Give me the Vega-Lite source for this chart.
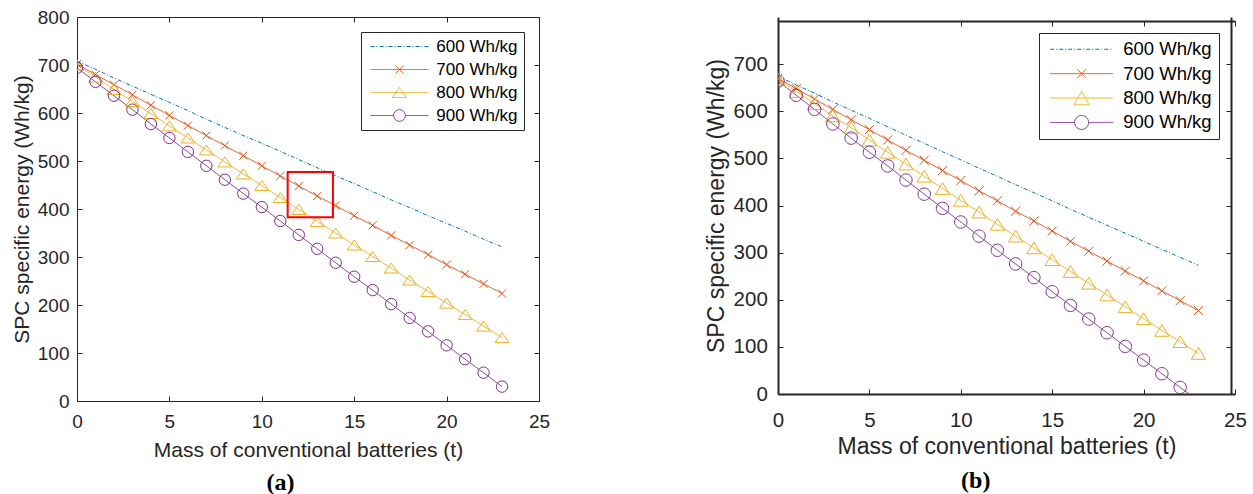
{
  "$schema": "https://vega.github.io/schema/vega-lite/v6.json",
  "background": "white",
  "padding": {"left": 11, "top": 8, "right": 5, "bottom": 5},
  "bounds": "flush",
  "align": "none",
  "spacing": 239,
  "datasets": {
    "a": [
      {"m":0,"600 Wh/kg":708,"700 Wh/kg":702,"800 Wh/kg":700,"900 Wh/kg":694},
      {"m":1,"600 Wh/kg":691,"700 Wh/kg":680,"800 Wh/kg":675,"900 Wh/kg":665},
      {"m":2,"600 Wh/kg":673,"700 Wh/kg":659,"800 Wh/kg":649,"900 Wh/kg":636},
      {"m":3,"600 Wh/kg":656,"700 Wh/kg":638,"800 Wh/kg":624,"900 Wh/kg":607},
      {"m":4,"600 Wh/kg":639,"700 Wh/kg":616,"800 Wh/kg":599,"900 Wh/kg":577},
      {"m":5,"600 Wh/kg":622,"700 Wh/kg":595,"800 Wh/kg":573,"900 Wh/kg":548},
      {"m":6,"600 Wh/kg":605,"700 Wh/kg":574,"800 Wh/kg":548,"900 Wh/kg":519},
      {"m":7,"600 Wh/kg":587,"700 Wh/kg":553,"800 Wh/kg":523,"900 Wh/kg":490},
      {"m":8,"600 Wh/kg":570,"700 Wh/kg":532,"800 Wh/kg":498,"900 Wh/kg":461},
      {"m":9,"600 Wh/kg":553,"700 Wh/kg":511,"800 Wh/kg":473,"900 Wh/kg":432},
      {"m":10,"600 Wh/kg":537,"700 Wh/kg":490,"800 Wh/kg":449,"900 Wh/kg":404},
      {"m":11,"600 Wh/kg":520,"700 Wh/kg":469,"800 Wh/kg":424,"900 Wh/kg":375},
      {"m":12,"600 Wh/kg":503,"700 Wh/kg":448,"800 Wh/kg":399,"900 Wh/kg":346},
      {"m":13,"600 Wh/kg":486,"700 Wh/kg":427,"800 Wh/kg":374,"900 Wh/kg":317},
      {"m":14,"600 Wh/kg":469,"700 Wh/kg":407,"800 Wh/kg":350,"900 Wh/kg":288},
      {"m":15,"600 Wh/kg":453,"700 Wh/kg":386,"800 Wh/kg":325,"900 Wh/kg":259},
      {"m":16,"600 Wh/kg":436,"700 Wh/kg":366,"800 Wh/kg":301,"900 Wh/kg":231},
      {"m":17,"600 Wh/kg":419,"700 Wh/kg":345,"800 Wh/kg":277,"900 Wh/kg":202},
      {"m":18,"600 Wh/kg":403,"700 Wh/kg":325,"800 Wh/kg":252,"900 Wh/kg":173},
      {"m":19,"600 Wh/kg":386,"700 Wh/kg":305,"800 Wh/kg":228,"900 Wh/kg":145},
      {"m":20,"600 Wh/kg":370,"700 Wh/kg":284,"800 Wh/kg":204,"900 Wh/kg":116},
      {"m":21,"600 Wh/kg":354,"700 Wh/kg":264,"800 Wh/kg":180,"900 Wh/kg":87},
      {"m":22,"600 Wh/kg":337,"700 Wh/kg":244,"800 Wh/kg":156,"900 Wh/kg":59},
      {"m":23,"600 Wh/kg":321,"700 Wh/kg":224,"800 Wh/kg":132,"900 Wh/kg":30}
    ],
    "b": [
      {"m":0,"600 Wh/kg":674,"700 Wh/kg":670,"800 Wh/kg":668,"900 Wh/kg":664},
      {"m":1,"600 Wh/kg":656,"700 Wh/kg":648,"800 Wh/kg":642,"900 Wh/kg":634},
      {"m":2,"600 Wh/kg":638,"700 Wh/kg":626,"800 Wh/kg":616,"900 Wh/kg":604},
      {"m":3,"600 Wh/kg":620,"700 Wh/kg":604,"800 Wh/kg":590,"900 Wh/kg":573},
      {"m":4,"600 Wh/kg":602,"700 Wh/kg":582,"800 Wh/kg":565,"900 Wh/kg":543},
      {"m":5,"600 Wh/kg":585,"700 Wh/kg":561,"800 Wh/kg":539,"900 Wh/kg":513},
      {"m":6,"600 Wh/kg":567,"700 Wh/kg":539,"800 Wh/kg":513,"900 Wh/kg":484},
      {"m":7,"600 Wh/kg":549,"700 Wh/kg":517,"800 Wh/kg":488,"900 Wh/kg":454},
      {"m":8,"600 Wh/kg":532,"700 Wh/kg":496,"800 Wh/kg":462,"900 Wh/kg":424},
      {"m":9,"600 Wh/kg":514,"700 Wh/kg":474,"800 Wh/kg":436,"900 Wh/kg":394},
      {"m":10,"600 Wh/kg":497,"700 Wh/kg":453,"800 Wh/kg":411,"900 Wh/kg":365},
      {"m":11,"600 Wh/kg":479,"700 Wh/kg":431,"800 Wh/kg":386,"900 Wh/kg":335},
      {"m":12,"600 Wh/kg":462,"700 Wh/kg":410,"800 Wh/kg":360,"900 Wh/kg":305},
      {"m":13,"600 Wh/kg":444,"700 Wh/kg":388,"800 Wh/kg":335,"900 Wh/kg":276},
      {"m":14,"600 Wh/kg":427,"700 Wh/kg":367,"800 Wh/kg":310,"900 Wh/kg":247},
      {"m":15,"600 Wh/kg":410,"700 Wh/kg":346,"800 Wh/kg":285,"900 Wh/kg":217},
      {"m":16,"600 Wh/kg":392,"700 Wh/kg":324,"800 Wh/kg":260,"900 Wh/kg":188},
      {"m":17,"600 Wh/kg":375,"700 Wh/kg":303,"800 Wh/kg":235,"900 Wh/kg":159},
      {"m":18,"600 Wh/kg":358,"700 Wh/kg":282,"800 Wh/kg":210,"900 Wh/kg":130},
      {"m":19,"600 Wh/kg":341,"700 Wh/kg":261,"800 Wh/kg":185,"900 Wh/kg":101},
      {"m":20,"600 Wh/kg":324,"700 Wh/kg":240,"800 Wh/kg":160,"900 Wh/kg":72},
      {"m":21,"600 Wh/kg":307,"700 Wh/kg":219,"800 Wh/kg":135,"900 Wh/kg":43},
      {"m":22,"600 Wh/kg":290,"700 Wh/kg":198,"800 Wh/kg":111,"900 Wh/kg":14},
      {"m":23,"600 Wh/kg":273,"700 Wh/kg":177,"800 Wh/kg":86,"900 Wh/kg":-14}
    ],
    "box": [{"x1": 11.4, "x2": 13.85, "y1": 383, "y2": 477}]
  },
  "config": {
    "view": {"stroke": null},
    "axis": {
      "grid": false,
      "domainColor": "#262626",
      "tickColor": "#262626",
      "labelColor": "#262626",
      "titleColor": "#262626",
      "labelFont": "Liberation Sans",
      "titleFont": "Liberation Sans",
      "titleFontWeight": "normal",
      "tickSize": -5,
      "tickWidth": 1,
      "labelFlush": false,
      "labelOverlap": false
    }
  },
  "resolve": {
    "scale": {"color": "independent", "shape": "independent", "strokeDash": "independent"},
    "legend": {"color": "independent", "shape": "independent", "strokeDash": "independent"}
  },
  "hconcat": [
    {
      "width": 462,
      "height": 384,
      "title": {"text": "(a)", "orient": "bottom", "frame": "bounds", "anchor": "middle", "font": "Liberation Serif", "fontSize": 24, "fontWeight": "bold", "color": "#000000", "offset": 10},
      "layer": [
        {
          "data": {"name": "a"},
          "transform": [{"fold": ["600 Wh/kg", "700 Wh/kg", "800 Wh/kg", "900 Wh/kg"], "as": ["s", "e"]}],
          "mark": {"type": "line", "strokeWidth": 1, "clip": true},
          "encoding": {
            "x": {"field": "m", "type": "quantitative", "scale": {"domain": [0, 25], "nice": false, "zero": false},
              "axis": {"orient": "bottom", "values": [0, 5, 10, 15, 20, 25], "title": "Mass of conventional batteries (t)", "labelFontSize": 19, "titleFontSize": 21, "labelPadding": 16.6, "titlePadding": 8, "domainWidth": 1}},
            "y": {"field": "e", "type": "quantitative", "scale": {"domain": [0, 800], "nice": false, "zero": false},
              "axis": {"orient": "left", "values": [0, 100, 200, 300, 400, 500, 600, 700, 800], "title": "SPC specific energy (Wh/kg)", "labelFontSize": 19, "titleFontSize": 21, "labelPadding": 13, "titlePadding": 5, "domainWidth": 1}},
            "color": {"field": "s", "type": "nominal",
              "scale": {"domain": ["600 Wh/kg", "700 Wh/kg", "800 Wh/kg", "900 Wh/kg"], "range": ["#0072BD", "#D95319", "#EDB120", "#7E2F8E"]},
              "legend": {"title": null, "orient": "top-right", "offset": 15, "fillColor": "#ffffff", "strokeColor": "#262626", "padding": 6, "labelFont": "Liberation Sans", "labelFontSize": 17, "labelColor": "#000000", "labelOffset": 52.3, "symbolSize": 100, "symbolStrokeWidth": 1, "rowPadding": 5,
                "encode": {"symbols": {"update": {
                  "shape": {"signal": "datum.value === '600 Wh/kg' ? 'M-1,0L10.6,0' : datum.value === '700 Wh/kg' ? 'M-1,0L10.6,0M4,-0.8L5.6,0.8M4,0.8L5.6,-0.8' : datum.value === '800 Wh/kg' ? 'M-1,0L10.6,0M4.8,-1L6.2,1L3.4,1Z' : 'M-1,0L3.64,0M5.96,0L10.6,0M3.64,0A1.16,1.16,0,1,0,5.96,0A1.16,1.16,0,1,0,3.64,0Z'"},
                  "strokeDash": {"signal": "datum.value === '600 Wh/kg' ? [4,2,1,2] : [1,0]"},
                  "fill": {"value": "transparent"}
                }}}}},
            "strokeDash": {"field": "s", "type": "nominal",
              "scale": {"domain": ["600 Wh/kg", "700 Wh/kg", "800 Wh/kg", "900 Wh/kg"], "range": [[4, 2, 1, 2], [1, 0], [1, 0], [1, 0]]},
              "legend": null}
          }
        },
        {
          "data": {"name": "a"},
          "transform": [{"fold": ["600 Wh/kg", "700 Wh/kg", "800 Wh/kg", "900 Wh/kg"], "as": ["s", "e"]}, {"filter": "datum.s !== '600 Wh/kg'"}],
          "mark": {"type": "point", "filled": false, "size": 400, "strokeWidth": 1, "opacity": 1, "clip": true},
          "encoding": {
            "x": {"field": "m", "type": "quantitative", "scale": {"domain": [0, 25], "nice": false, "zero": false}, "axis": {"orient": "top", "values": [0, 5, 10, 15, 20, 25], "labels": false, "title": null, "domainWidth": 1}},
            "y": {"field": "e", "type": "quantitative", "scale": {"domain": [0, 800], "nice": false, "zero": false}, "axis": {"orient": "right", "values": [0, 100, 200, 300, 400, 500, 600, 700, 800], "labels": false, "title": null, "domainWidth": 1}},
            "color": {"field": "s", "type": "nominal"},
            "shape": {"field": "s", "type": "nominal",
              "scale": {"domain": ["700 Wh/kg", "800 Wh/kg", "900 Wh/kg"], "range": ["M-0.4,-0.4L0.4,0.4M-0.4,0.4L0.4,-0.4", "M0,-0.5L0.7,0.5L-0.7,0.5Z", "M-0.57,0A0.57,0.57,0,1,0,0.57,0A0.57,0.57,0,1,0,-0.57,0Z"]},
              "legend": null}
          }
        },
        {
          "data": {"name": "box"},
          "mark": {"type": "rect", "filled": false, "stroke": "#FF0000", "strokeWidth": 2},
          "encoding": {
            "x": {"field": "x1", "type": "quantitative", "scale": {"domain": [0, 25], "nice": false, "zero": false}, "axis": null},
            "x2": {"field": "x2"},
            "y": {"field": "y1", "type": "quantitative", "scale": {"domain": [0, 800], "nice": false, "zero": false}, "axis": null},
            "y2": {"field": "y2"}
          }
        }
      ],
      "resolve": {"axis": {"x": "independent", "y": "independent"}}
    },
    {
      "width": 457,
      "height": 377,
      "title": {"text": "(b)", "orient": "bottom", "frame": "bounds", "anchor": "middle", "font": "Liberation Serif", "fontSize": 24, "fontWeight": "bold", "color": "#000000", "offset": 10},
      "layer": [
        {
          "data": {"name": "b"},
          "transform": [{"fold": ["600 Wh/kg", "700 Wh/kg", "800 Wh/kg", "900 Wh/kg"], "as": ["s", "e"]}],
          "mark": {"type": "line", "strokeWidth": 1, "clip": true},
          "encoding": {
            "x": {"field": "m", "type": "quantitative", "scale": {"domain": [0, 25], "nice": false, "zero": false},
              "axis": {"orient": "bottom", "values": [0, 5, 10, 15, 20, 25], "title": "Mass of conventional batteries (t)", "labelFontSize": 20.5, "titleFontSize": 23, "labelPadding": 21.5, "titlePadding": 4.5, "domainWidth": 2}},
            "y": {"field": "e", "type": "quantitative", "scale": {"domain": [0, 800], "nice": false, "zero": false},
              "axis": {"orient": "left", "values": [0, 100, 200, 300, 400, 500, 600, 700], "title": "SPC specific energy (Wh/kg)", "labelFontSize": 20.5, "titleFontSize": 23, "labelPadding": 15.7, "titlePadding": 5, "domainWidth": 2}},
            "color": {"field": "s", "type": "nominal",
              "scale": {"domain": ["600 Wh/kg", "700 Wh/kg", "800 Wh/kg", "900 Wh/kg"], "range": ["#0072BD", "#D95319", "#EDB120", "#7E2F8E"]},
              "legend": {"title": null, "orient": "top-right", "offset": 16, "fillColor": "#ffffff", "strokeColor": "#262626", "padding": 7, "labelFont": "Liberation Sans", "labelFontSize": 18.5, "labelColor": "#000000", "labelOffset": 58.7, "symbolSize": 100, "symbolStrokeWidth": 1, "rowPadding": 5.4,
                "encode": {"symbols": {"update": {
                  "shape": {"signal": "datum.value === '600 Wh/kg' ? 'M-1,0L11.54,0' : datum.value === '700 Wh/kg' ? 'M-1,0L11.54,0M4.37,-0.9L6.17,0.9M4.37,0.9L6.17,-0.9' : datum.value === '800 Wh/kg' ? 'M-1,0L11.54,0M5.27,-1.33L6.77,1.33L3.77,1.33Z' : 'M-1,0L3.87,0M6.67,0L11.54,0M3.87,0A1.4,1.4,0,1,0,6.67,0A1.4,1.4,0,1,0,3.87,0Z'"},
                  "strokeDash": {"signal": "datum.value === '600 Wh/kg' ? [4,2,1,2] : [1,0]"},
                  "fill": {"value": "transparent"}
                }}}}},
            "strokeDash": {"field": "s", "type": "nominal",
              "scale": {"domain": ["600 Wh/kg", "700 Wh/kg", "800 Wh/kg", "900 Wh/kg"], "range": [[4, 2, 1, 2], [1, 0], [1, 0], [1, 0]]},
              "legend": null}
          }
        },
        {
          "data": {"name": "b"},
          "transform": [{"fold": ["600 Wh/kg", "700 Wh/kg", "800 Wh/kg", "900 Wh/kg"], "as": ["s", "e"]}, {"filter": "datum.s !== '600 Wh/kg'"}],
          "mark": {"type": "point", "filled": false, "size": 400, "strokeWidth": 1, "opacity": 1, "clip": true},
          "encoding": {
            "x": {"field": "m", "type": "quantitative", "scale": {"domain": [0, 25], "nice": false, "zero": false}, "axis": {"orient": "top", "offset": -4, "values": [0, 5, 10, 15, 20, 25], "labels": false, "title": null, "domainWidth": 2}},
            "y": {"field": "e", "type": "quantitative", "scale": {"domain": [0, 800], "nice": false, "zero": false}, "axis": {"orient": "right", "offset": -4, "values": [0, 100, 200, 300, 400, 500, 600, 700], "labels": false, "title": null, "domainWidth": 2}},
            "color": {"field": "s", "type": "nominal"},
            "shape": {"field": "s", "type": "nominal",
              "scale": {"domain": ["700 Wh/kg", "800 Wh/kg", "900 Wh/kg"], "range": ["M-0.45,-0.45L0.45,0.45M-0.45,0.45L0.45,-0.45", "M0,-0.585L0.715,0.585L-0.715,0.585Z", "M-0.62,0A0.62,0.62,0,1,0,0.62,0A0.62,0.62,0,1,0,-0.62,0Z"]},
              "legend": null}
          }
        }
      ],
      "resolve": {"axis": {"x": "independent", "y": "independent"}}
    }
  ]
}
